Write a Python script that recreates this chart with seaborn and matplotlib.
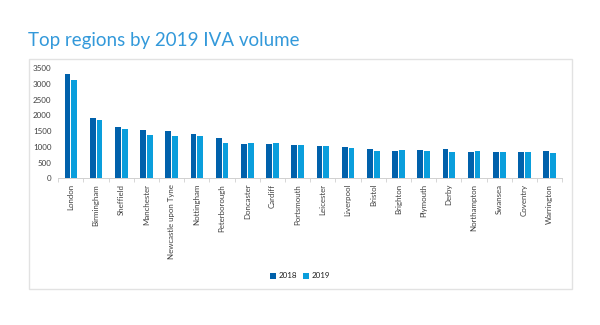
import numpy as np
import pandas as pd
import matplotlib
matplotlib.use("Agg")
import matplotlib.pyplot as plt
from matplotlib.patches import Rectangle
import seaborn as sns

regions = ["London", "Birmingham", "Sheffield", "Manchester", "Newcastle upon Tyne",
           "Nottingham", "Peterborough", "Doncaster", "Cardiff", "Portsmouth",
           "Leicester", "Liverpool", "Bristol", "Brighton", "Plymouth", "Derby",
           "Northampton", "Swansea", "Coventry", "Warrington"]
iva_2018 = [3310, 1930, 1635, 1530, 1500, 1420, 1275, 1085, 1085, 1060,
            1025, 1000, 945, 870, 900, 925, 830, 840, 850, 870]
iva_2019 = [3120, 1855, 1580, 1370, 1350, 1340, 1135, 1115, 1120, 1060,
            1030, 965, 860, 910, 860, 840, 870, 840, 830, 805]
years = ["2018", "2019"]
y_ticks = [0, 500, 1000, 1500, 2000, 2500, 3000, 3500]

df = pd.DataFrame({
    "region": regions * 2,
    "year": [years[0]] * len(regions) + [years[1]] * len(regions),
    "volume": iva_2018 + iva_2019,
})

sns.set_theme(style="white")
plt.rcParams["font.family"] = ["Lato", "DejaVu Sans"]

W, H = 600, 325
fig = plt.figure(figsize=(W / 100, H / 100), dpi=100)
ax = fig.add_axes([58.3 / W, (H - 178.3) / H, (562.3 - 58.3) / W, 110 / H])

palette = {"2018": "#0061AB", "2019": "#0A9EDC"}
sns.barplot(data=df, x="region", y="volume", hue="year", order=regions,
            hue_order=years, palette=palette, width=0.54, gap=0.14,
            saturation=1, linewidth=0, ax=ax, legend=True)

ax.set_xlim(-0.5, len(regions) - 0.5)
ax.set_ylim(0, 3500)
ax.set_yticks(y_ticks)
ax.set_yticklabels([str(t) for t in y_ticks], fontsize=5.8, color="#404040")
ax.set_xticks(range(len(regions)))
ax.set_xticklabels(regions, rotation=90, fontsize=5.7, color="#404040")
ax.set_xticks(np.arange(-0.5, len(regions), 1), minor=True)
ax.tick_params(axis="x", which="major", length=0, pad=4)
ax.tick_params(axis="x", which="minor", length=3, width=0.6, color="#d0d0d0",
               bottom=True, direction="out")
ax.tick_params(axis="y", length=0, pad=5)
ax.set_xlabel("")
ax.set_ylabel("")
for side in ["top", "right", "left"]:
    ax.spines[side].set_visible(False)
ax.spines["bottom"].set_color("#d0d0d0")
ax.spines["bottom"].set_linewidth(0.7)

handles, labels = ax.get_legend_handles_labels()
ax.legend(handles, labels, loc="center", bbox_to_anchor=(300 / W, (H - 276) / H),
          bbox_transform=fig.transFigure, ncol=2, frameon=False, fontsize=5.8,
          handlelength=0.7, handleheight=0.7, handletextpad=0.3, columnspacing=0.8,
          labelcolor="#202020")

# Frame around the chart panel
fig.patches.append(Rectangle((28.5 / W, (H - 289) / H), (571.5 - 28.5) / W, (289 - 59) / H,
                             transform=fig.transFigure, fill=False,
                             edgecolor="#e2e2e2", linewidth=1.0))

fig.text(28 / W, (H - 45.7) / H, "Top regions by 2019 IVA volume", fontsize=13.5,
         color="#3399DA", fontweight="normal", ha="left", va="baseline")

fig.savefig("out.png", dpi=100)
